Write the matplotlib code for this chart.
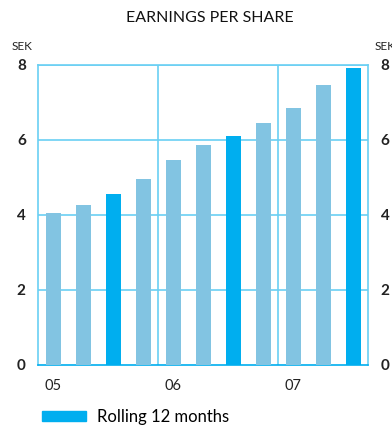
import matplotlib
matplotlib.use("Agg")
import matplotlib.pyplot as plt
from matplotlib.patches import Patch

plt.rcParams['font.family'] = ['Lato', 'DejaVu Sans']

values = [4.05, 4.26, 4.55, 4.95, 5.46, 5.86, 6.10, 6.45, 6.85, 7.46, 7.92]
highlight = [False, False, True, False, False, False, True, False, False, False, True]
year_labels = ["05", "06", "07"]
year_positions = [0, 4, 8]
yticks = [0, 2, 4, 6, 8]

light = "#82C4E2"
dark = "#00AEEF"
grid = "#6ACFF3"

fig = plt.figure(figsize=(3.92, 4.25), dpi=100)
ax = fig.add_axes([0.0977, 0.1419, 0.8418, 0.7059])

x = list(range(len(values)))
colors = [dark if h else light for h in highlight]
ax.bar(x, values, width=0.5, color=colors, zorder=3)

ax.set_xlim(-0.5, len(values) - 0.5)
ax.set_ylim(0, 8)
for yv in yticks[1:]:
    ax.axhline(yv, color=grid, lw=1.2, zorder=1)
for xv in [3.5, 7.5]:
    ax.axvline(xv, color=grid, lw=1.2, zorder=1)
for s in ax.spines.values():
    s.set_color(grid)
    s.set_linewidth(1.2)
ax.spines['bottom'].set_color(dark)

ax.set_yticks(yticks)
ax.set_yticklabels([str(v) for v in yticks], fontsize=11, color="#222222", fontweight="bold")
ax.tick_params(axis='y', length=0, pad=9, labelright=True, labelleft=True)
ax.set_xticks(year_positions)
ax.set_xticklabels(year_labels, fontsize=10.5, color="#222222")
ax.tick_params(axis='x', length=0, pad=10)

fig.text(0.535, 0.957, "EARNINGS PER SHARE", ha="center", va="center", fontsize=11.5, color="#111111")
fig.text(0.03, 0.89, "SEK", ha="left", va="center", fontsize=8.5, color="#222222")
fig.text(0.955, 0.89, "SEK", ha="left", va="center", fontsize=8.5, color="#222222")

handles = [Patch(color=dark, label="Rolling 12 months")]
fig.legend(handles=handles, loc="center left", bbox_to_anchor=(0.107, 0.019), frameon=False,
           fontsize=12, handlelength=2.64, handleheight=0.6, handletextpad=0.66,
           borderpad=0, borderaxespad=0)

fig.savefig("out.png", dpi=100)
